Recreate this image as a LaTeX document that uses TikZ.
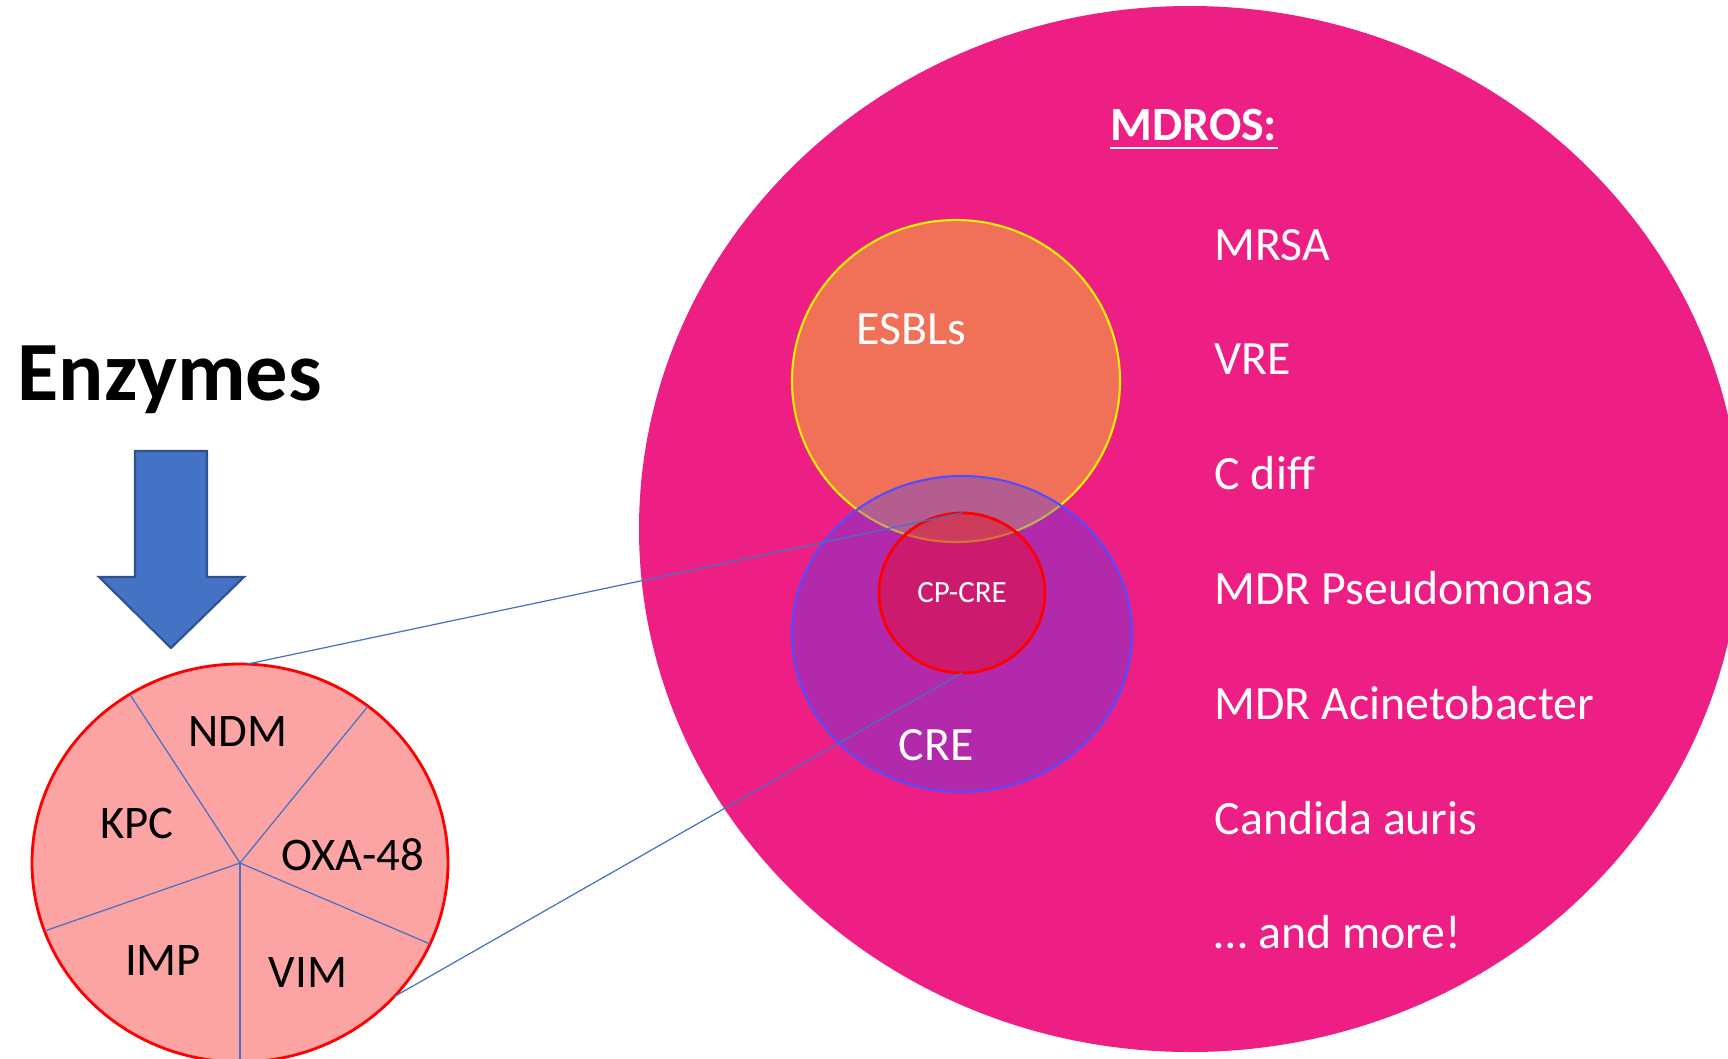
\documentclass[tikz,border=0pt]{standalone}
\usepackage{fontspec}
\setmainfont{Carlito}
\usetikzlibrary{shapes.geometric,calc}

\definecolor{mdropink}{RGB}{237,31,133}
\definecolor{esblorange}{RGB}{241,112,88}
\definecolor{creblue}{RGB}{70,60,245}
\definecolor{creedge}{RGB}{84,76,255}
\definecolor{piepink}{RGB}{252,164,164}
\definecolor{slateblue}{RGB}{68,114,196}
\definecolor{arrowedge}{RGB}{47,82,143}

\begin{document}
\begin{tikzpicture}[
    blob/.style={ellipse, inner sep=0pt, outer sep=0pt},
    whitelabel/.style={text=white, font=\fontsize{13.6}{16}\selectfont, inner sep=0pt},
    enzlabel/.style={text=black, font=\fontsize{13.3}{15}\selectfont, inner sep=0pt},
    thinblue/.style={slateblue, line width=0.35pt}
  ]
    \useasboundingbox (0,0) rectangle (17.28,10.58);
    \clip (0,0) rectangle (17.28,10.58);

    % the MDRO ellipse and its circles
    \node[blob, fill=mdropink, minimum width=11.02cm, minimum height=10.46cm] (mdro) at (11.90,5.29) {};
    \node[blob, fill=esblorange, draw=yellow, line width=0.6pt, minimum width=3.28cm, minimum height=3.22cm] (esbl) at (9.56,6.77) {};
    \node[blob, fill=creblue, fill opacity=0.35, draw=creedge, line width=0.6pt, minimum width=3.40cm, minimum height=3.16cm] (cre) at (9.62,4.24) {};
    \node[blob, fill=red, fill opacity=0.35, draw=red, line width=0.8pt, minimum width=1.66cm, minimum height=1.60cm,
          text opacity=1, text=white, font=\fontsize{8.8}{10}\selectfont] (cpcre) at (9.62,4.65) {CP-CRE};
    \node[whitelabel, anchor=base] (esbllab) at (9.11,7.14) {ESBLs};
    \node[whitelabel, anchor=base] (crelab) at (9.36,2.98) {CRE};

    \node[whitelabel, anchor=base west, font=\bfseries\fontsize{13.6}{16}\selectfont] (mdros) at (11.10,9.18) {MDROS:};
    \draw[white, line width=0.6pt] ([yshift=-2.3pt]mdros.base west) -- ([yshift=-2.3pt]mdros.base east);
    \foreach \name [count=\i from 0] in {MRSA, VRE, C diff, MDR Pseudomonas, MDR Acinetobacter, Candida auris, … and more!} {
      \node[whitelabel, anchor=base west] (item\i) at (12.14,{7.98-1.148*\i}) {\name};
    }

    % enzymes side
    \node[anchor=base west, inner sep=0pt, font=\bfseries\fontsize{24}{28}\selectfont] (enzymes) at (0.17,6.58) {Enzymes};
    \draw[fill=slateblue, draw=arrowedge, line width=0.6pt]
      (1.35,6.07) -- (2.07,6.07) -- (2.07,4.81) -- (2.44,4.81) -- (1.71,4.10) -- (0.99,4.81) -- (1.35,4.81) -- cycle;

    \node[blob, fill=piepink, draw=red, line width=0.8pt, minimum width=4.16cm, minimum height=3.98cm] (pie) at (2.40,1.95) {};
    \foreach \a in {122,52,-24,-90,200} {
      \draw[thinblue] (pie.center) -- +(\a:2.08 and 1.99);
    }
    \foreach \lab/\x/\y [count=\k] in {NDM/2.38/3.27, KPC/1.37/2.35, OXA-48/3.53/2.03, IMP/1.63/0.98, VIM/3.08/0.86} {
      \node[enzlabel] (enz\k) at (\x,\y) {\lab};
    }

    % zoom lines
    \draw[thinblue] (pie.88.6) -- (cpcre.north);
    \draw[thinblue] (pie.-41.6) -- (cpcre.south);
\end{tikzpicture}
\end{document}
